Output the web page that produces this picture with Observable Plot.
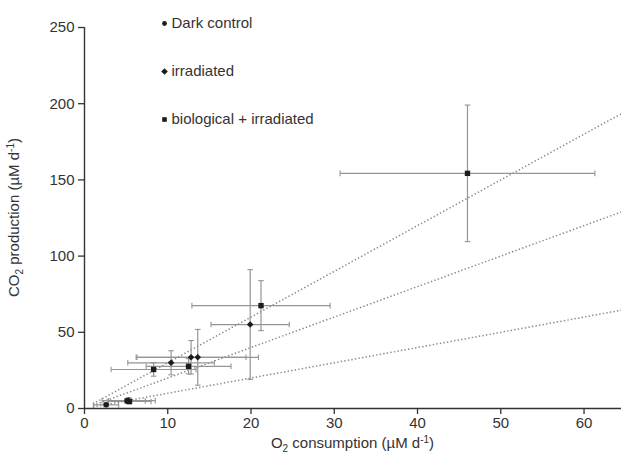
<!DOCTYPE html>
<html><head><meta charset="utf-8">
<script src="https://cdn.jsdelivr.net/npm/d3@7"></script>
<script src="https://cdn.jsdelivr.net/npm/@observablehq/plot@0.6"></script>
<style>body{margin:0;background:#fff;} #chart{width:621px;height:454px;}</style>
</head><body><div id="chart"></div>
<script>
// ---- data ----
const groups = ["Dark control", "irradiated", "biological + irradiated"];

const darkX = [2.6, 5.1];
const darkY = [2.4, 5.0];
const darkXErr = [1.5, 2.2];
const darkYErr = [1.2, 1.5];

const irrX = [5.3, 10.4, 12.8, 13.6, 19.9];
const irrY = [5.2, 30.0, 33.6, 33.6, 55.1];
const irrXErr = [3.2, 5.2, 6.6, 7.3, 4.7];
const irrYErr = [2.0, 7.9, 11.0, 18.3, 36.0];

const bioX = [5.4, 8.3, 12.5, 21.2, 46.0];
const bioY = [4.6, 25.6, 27.7, 67.5, 154.3];
const bioXErr = [2.6, 5.1, 5.1, 8.3, 15.3];
const bioYErr = [1.5, 4.4, 5.0, 16.4, 44.8];

const fitSlopes = [3, 2, 1];
const fitXRange = [1, 64.5];

const xTicks = [0, 10, 20, 30, 40, 50, 60];
const yTicks = [0, 50, 100, 150, 200, 250];

// ---- build table ----
function rows(group, xs, ys, xe, ye) {
  return xs.map((x, i) => ({group, x, y: ys[i], xe: xe[i], ye: ye[i]}));
}
const points = [
  ...rows(groups[0], darkX, darkY, darkXErr, darkYErr),
  ...rows(groups[1], irrX, irrY, irrXErr, irrYErr),
  ...rows(groups[2], bioX, bioY, bioXErr, bioYErr)
];
const fitLines = fitSlopes.map(s => ({x1: fitXRange[0], y1: s * fitXRange[0], x2: fitXRange[1], y2: s * fitXRange[1]}));

const symbols = {"Dark control": "circle", "irradiated": "diamond2", "biological + irradiated": "square"};
const radius = {"Dark control": 3.6, "irradiated": 4.2, "biological + irradiated": 4.3};
const legendRadius = {"Dark control": 2.4, "irradiated": 3.0, "biological + irradiated": 2.6};

const hCap = {draw(ctx, size) { const r = Math.sqrt(size / Math.PI); ctx.moveTo(-r, 0); ctx.lineTo(r, 0); }};
const vCap = {draw(ctx, size) { const r = Math.sqrt(size / Math.PI); ctx.moveTo(0, -r); ctx.lineTo(0, r); }};

const barColor = "#959595";
const ink = "#1c1c1c";

const legendMarks = groups.flatMap((g, i) => [
  Plot.dot([g], {frameAnchor: "top-left", dx: 80, dy: -4 + i * 48, symbol: () => symbols[g], r: legendRadius[g], fill: ink, stroke: null}),
  Plot.text([g], {frameAnchor: "top-left", dx: 87, dy: -4 + i * 48, text: d => d, textAnchor: "start", lineAnchor: "middle", fontSize: 15, fill: "#333"})
]);

const chart = Plot.plot({
  width: 621,
  height: 454,
  marginLeft: 84,
  marginRight: 0,
  marginTop: 27,
  marginBottom: 46,
  style: {fontFamily: "'Liberation Sans', Arial, sans-serif", color: "#333", background: "#fff"},
  x: {domain: [0, 64.5]},
  y: {domain: [0, 250]},
  symbol: {domain: groups, range: groups.map(g => symbols[g])},
  marks: [
    Plot.link(fitLines, {x1: "x1", y1: "y1", x2: "x2", y2: "y2", stroke: "#8a8a8a", strokeWidth: 1.5, strokeDasharray: "1.4,2.2", clip: true}),
    // error bars
    Plot.link(points, {x1: d => d.x - d.xe, x2: d => d.x + d.xe, y1: "y", y2: "y", stroke: barColor, strokeWidth: 1.2}),
    Plot.link(points, {x1: "x", x2: "x", y1: d => d.y - d.ye, y2: d => d.y + d.ye, stroke: barColor, strokeWidth: 1.2}),
    Plot.dot(points, {x: d => d.x - d.xe, y: "y", symbol: vCap, r: 2.8, stroke: barColor, strokeWidth: 1.1, fill: null}),
    Plot.dot(points, {x: d => d.x + d.xe, y: "y", symbol: vCap, r: 2.8, stroke: barColor, strokeWidth: 1.1, fill: null}),
    Plot.dot(points, {x: "x", y: d => d.y - d.ye, symbol: hCap, r: 2.8, stroke: barColor, strokeWidth: 1.1, fill: null}),
    Plot.dot(points, {x: "x", y: d => d.y + d.ye, symbol: hCap, r: 2.8, stroke: barColor, strokeWidth: 1.1, fill: null}),
    // markers
    Plot.dot(points, {x: "x", y: "y", symbol: "group", r: d => radius[d.group], fill: ink, stroke: null}),
    // axes
    Plot.ruleY([0], {stroke: "#333", strokeWidth: 1.4}),
    Plot.ruleX([0], {stroke: "#333", strokeWidth: 1.4}),
    Plot.axisX({ticks: xTicks, tickSize: 6, tickPadding: 3, fontSize: 15, label: null, strokeWidth: 1.3}),
    Plot.axisY({ticks: yTicks, tickSize: 6, tickPadding: 4, fontSize: 15, label: null, strokeWidth: 1.3}),
    ...legendMarks
  ]
});

document.getElementById("chart").appendChild(chart);

// axis titles with sub/superscripts
const svg = d3.select(chart);
const xl = svg.append("text")
  .attr("x", 84 + (621 - 84) / 2).attr("y", 448)
  .attr("text-anchor", "middle").attr("font-size", 15).attr("fill", "#333");
xl.append("tspan").text("O");
xl.append("tspan").attr("font-size", 10).attr("dy", 4).text("2");
xl.append("tspan").attr("dy", -4).text(" consumption (µM d");
xl.append("tspan").attr("font-size", 10).attr("dy", -5).text("-1");
xl.append("tspan").attr("dy", 5).text(")");

const yl = svg.append("text")
  .attr("transform", `translate(19,${(27 + 408) / 2}) rotate(-90)`)
  .attr("text-anchor", "middle").attr("font-size", 15).attr("fill", "#333");
yl.append("tspan").text("CO");
yl.append("tspan").attr("font-size", 10).attr("dy", 4).text("2");
yl.append("tspan").attr("dy", -4).text(" production (µM d");
yl.append("tspan").attr("font-size", 10).attr("dy", -5).text("-1");
yl.append("tspan").attr("dy", 5).text(")");
</script></body></html>
